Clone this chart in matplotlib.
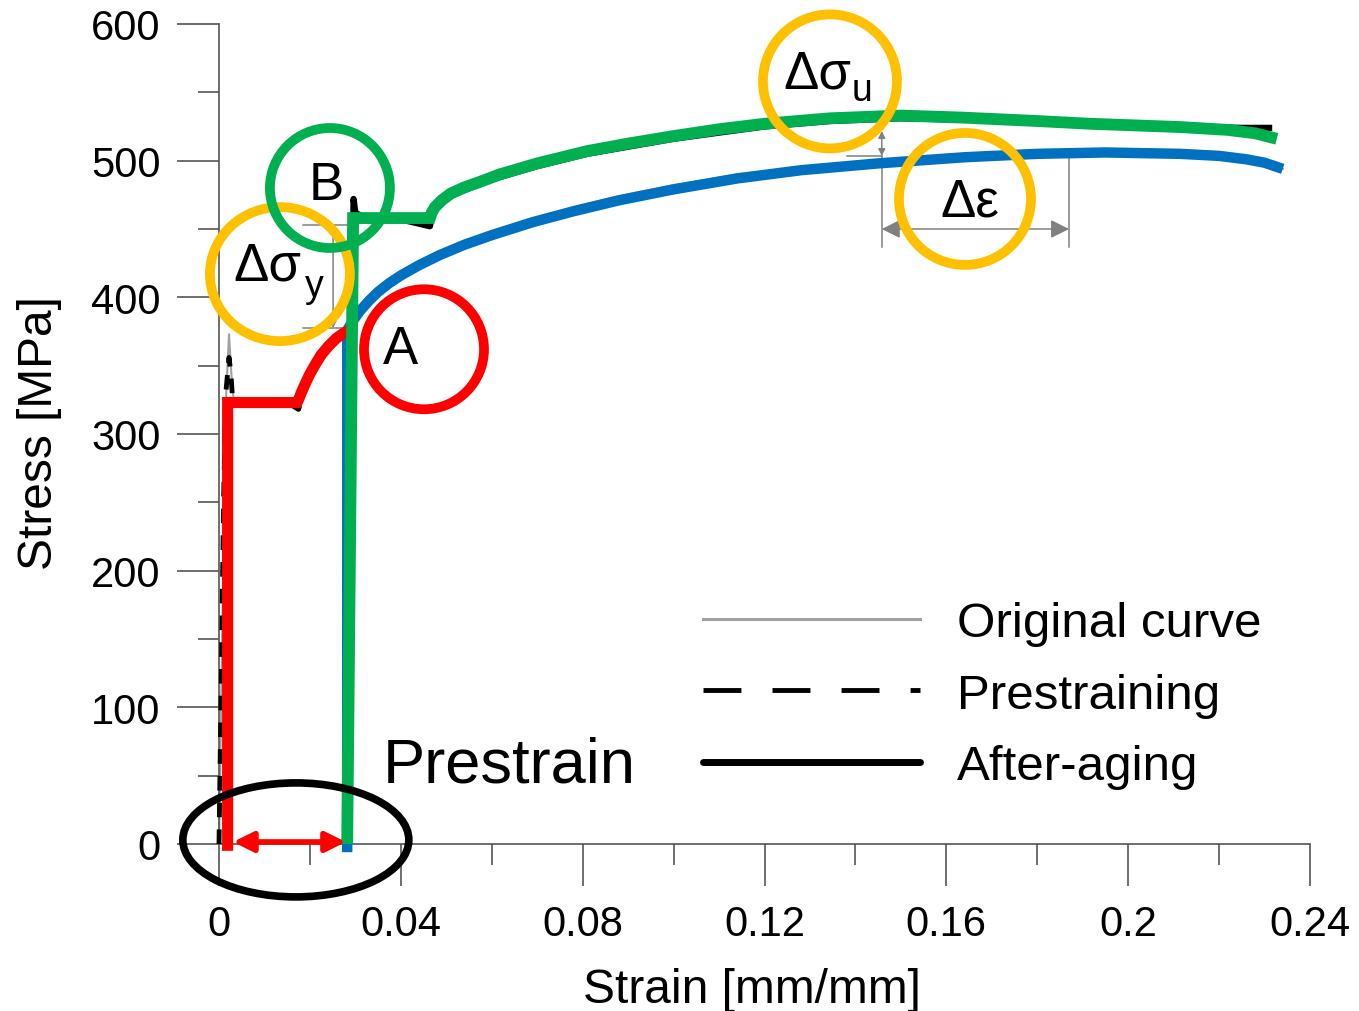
import numpy as np
import matplotlib
matplotlib.use("Agg")
import matplotlib.pyplot as plt
from matplotlib.lines import Line2D
from matplotlib.patches import Ellipse

plt.rcParams['font.family'] = ['Liberation Sans', 'DejaVu Sans']

# original (monotonic) test curve
orig_strain = [0, 0.0008, 0.0016, 0.0022, 0.0027, 0.0032, 0.008, 0.0175, 0.019, 0.022, 0.026, 0.0295,
               0.031, 0.033, 0.035, 0.0375, 0.040, 0.044, 0.0486, 0.054, 0.060, 0.069, 0.078, 0.088,
               0.100, 0.114, 0.128, 0.145, 0.164, 0.180, 0.195, 0.2114, 0.220, 0.226, 0.230, 0.234]
orig_stress = [0, 170, 330, 373, 345, 325, 322, 320, 334, 355, 371, 383,
               390, 397.5, 404, 410.5, 416, 423.5, 431, 439, 446.5, 457, 466, 474,
               482, 490, 495, 499, 503, 505.5, 506.5, 505.5, 504, 501, 498.5, 494]

# prestraining test (black dashed)
pre_strain = [0, 0.0005, 0.0010, 0.0015, 0.0022, 0.0026, 0.0030, 0.006, 0.009, 0.012, 0.015,
              0.0175, 0.019, 0.022, 0.026, 0.0295]
pre_stress = [0, 120, 250, 330, 356, 345, 325, 322, 324, 321, 323, 318, 334, 355, 371, 378]

# after-aging test (black solid)
aged_strain = [0.0282, 0.0290, 0.0296, 0.0300, 0.0320, 0.0400, 0.0464, 0.0470, 0.0500, 0.0574,
               0.0618, 0.0700, 0.0810, 0.1000, 0.1200, 0.1344, 0.1500, 0.1637, 0.1800, 0.1916,
               0.2114, 0.2250, 0.2310]
aged_stress = [0, 300, 472, 462, 458, 457, 452, 464, 473, 483, 488, 496, 505, 516, 525, 529,
               531, 530, 528, 526, 525, 524, 524]

# highlighted segments
red_strain = [0.0019, 0.0019, 0.0172, 0.0176, 0.0182, 0.0190, 0.0200, 0.0212, 0.0225, 0.0240,
              0.0258, 0.0275, 0.0293]
red_stress = [-5, 323, 323, 326, 331, 337, 344, 351, 358, 364, 370, 374, 377]

blue_strain = [0.0282, 0.0282, 0.0295, 0.0310, 0.0330, 0.0350, 0.0375, 0.0400, 0.0440, 0.0486,
               0.0540, 0.0600, 0.0690, 0.0780, 0.0880, 0.1000, 0.1140, 0.1280, 0.1450, 0.1640,
               0.1800, 0.1950, 0.2114, 0.2200, 0.2260, 0.2300, 0.2340]
blue_stress = [-6, 376, 383, 390, 397.5, 404, 410.5, 416, 423.5, 431, 438.5, 445.5, 455, 463,
               471, 479, 487, 493, 498, 502.5, 505, 506, 505, 503.5, 501, 498.5, 494]

green_strain = [0.0282, 0.0295, 0.0464, 0.0468, 0.0475, 0.0490, 0.0510, 0.0540, 0.0574, 0.0618,
                0.0700, 0.0810, 0.0900, 0.1000, 0.1100, 0.1200, 0.1344, 0.1500, 0.1637, 0.1800,
                0.1916, 0.2114, 0.2220, 0.2280, 0.2327]
green_stress = [0, 458, 458, 462, 466, 471, 476, 480.5, 484.5, 490, 498, 507, 512.5, 518, 523,
                527, 531, 533, 531.5, 529, 527, 524.6, 522.5, 520, 516]

legend_labels = ['Original curve', 'Prestraining', 'After-aging']

RED, GREEN, BLUE, YELLOW = '#FF0000', '#00B050', '#0070C0', '#FFC000'
AXC = '#555555'
DIMC = '#808080'

fig = plt.figure(figsize=(13.59, 10.12), dpi=100)
ax = fig.add_axes([219 / 1359, 1 - 845 / 1012, 1091 / 1359, 820 / 1012])
ax.set_xlim(0, 0.24)
ax.set_ylim(0, 600)

ax.plot(orig_strain, orig_stress, color='#A0A0A0', lw=1.5, zorder=2, clip_on=False)
ax.plot(pre_strain, pre_stress, color='black', lw=3.5, dashes=(3, 2.5), zorder=3, clip_on=False)
ax.plot(aged_strain, aged_stress, color='black', lw=4.5, zorder=3, clip_on=False)
ax.plot(blue_strain, blue_stress, color=BLUE, lw=7.5, zorder=4, clip_on=False, solid_capstyle='butt')
ax.plot(red_strain, red_stress, color=RED, lw=8, zorder=5, clip_on=False, solid_capstyle='butt',
        solid_joinstyle='miter')
ax.plot(green_strain, green_stress, color=GREEN, lw=8.5, zorder=6, clip_on=False, solid_capstyle='butt',
        solid_joinstyle='miter')

# axes styling
for side in ['top', 'right']:
    ax.spines[side].set_visible(False)
for side in ['left', 'bottom']:
    ax.spines[side].set_color(AXC)
    ax.spines[side].set_linewidth(1.2)
ax.set_xticks(np.arange(0, 0.241, 0.04))
ax.set_xticks(np.arange(0, 0.241, 0.02), minor=True)
ax.set_yticks(np.arange(0, 601, 100))
ax.set_yticks(np.arange(0, 601, 50), minor=True)
ax.set_xticklabels(['0', '0.04', '0.08', '0.12', '0.16', '0.2', '0.24'])
ax.tick_params(which='major', direction='out', length=30, width=1.2, color=AXC, labelsize=30, pad=13)
ax.tick_params(which='minor', direction='out', length=15, width=1.2, color=AXC)
ax.tick_params(axis='y', which='major', pad=12)

ax.set_xlabel('Strain [mm/mm]', fontsize=34.5)
ax.xaxis.set_label_coords((752 - 219) / 1091, -0.150)
ax.set_ylabel('Stress [MPa]', fontsize=34.5)
ax.yaxis.set_label_coords(-0.144, 0.502)

# legend
handles = [Line2D([], [], color='#A0A0A0', lw=2.2),
           Line2D([], [], color='black', lw=3.5, dashes=(7.8, 6.4)),
           Line2D([], [], color='black', lw=5, solid_capstyle='round')]
ax.legend(handles, legend_labels, loc='upper left', bbox_to_anchor=(0.4436, 0.2963), frameon=False,
          fontsize=35.5, handlelength=4.4, handletextpad=0.75, labelspacing=0.54,
          borderpad=0, borderaxespad=0)

# annotation circles (center in data units, radius in pixels)
sx = 1091 / 0.24
sy = 820 / 600
circles = [
    (0.1344, 558, 67, 67, YELLOW),
    (0.1641, 472, 66, 66, YELLOW),
    (0.0134, 417, 70, 67, YELLOW),
    (0.0244, 480, 60, 60, GREEN),
    (0.0451, 362, 60, 60, RED),
]
for cx, cy, rx, ry, col in circles:
    ax.add_patch(Ellipse((cx, cy), 2 * rx / sx, 2 * ry / sy, fill=False, ec=col, lw=7,
                         zorder=8, clip_on=False))
ax.add_patch(Ellipse((0.0169, 3), 226 / sx, 114 / sy, fill=False, ec='black', lw=5.5,
                     zorder=8, clip_on=False))

# labels inside circles
ax.text(0.0400, 362, 'A', fontsize=38, ha='center', va='center', zorder=9)
ax.text(0.0235, 482, 'B', fontsize=38, ha='center', va='center', zorder=9)
ax.text(0.0106, 423, 'Δσ', fontsize=38, ha='center', va='center', zorder=9)
ax.text(0.0209, 408, 'y', fontsize=27, ha='center', va='center', zorder=9)
ax.text(0.1317, 564, 'Δσ', fontsize=38, ha='center', va='center', zorder=9)
ax.text(0.1414, 552, 'u', fontsize=27, ha='center', va='center', zorder=9)
ax.text(0.1652, 470, 'Δε', fontsize=38, ha='center', va='center', zorder=9)
ax.text(0.0361, 58, 'Prestrain', fontsize=45.5, ha='left', va='center', zorder=9)

# prestrain arrow
ax.annotate('', xy=(0.0279, 1.5), xytext=(0.0031, 1.5),
            arrowprops=dict(arrowstyle='<|-|>', color=RED, lw=4, mutation_scale=30,
                            shrinkA=0, shrinkB=0), zorder=7, annotation_clip=False)

# dimension lines
dim = dict(color=DIMC, lw=1.1, zorder=1, clip_on=False)
ax.plot([0.0185, 0.0286], [453, 453], **dim)
ax.plot([0.0185, 0.0286], [377.5, 377.5], **dim)
ax.annotate('', xy=(0.0251, 453), xytext=(0.0251, 377.5),
            arrowprops=dict(arrowstyle='<|-|>', color=DIMC, lw=1.1, mutation_scale=10,
                            shrinkA=0, shrinkB=0))
ax.plot([0.1381, 0.1458], [503.4, 503.4], **dim)
ax.annotate('', xy=(0.1458, 521.7), xytext=(0.1458, 503.4),
            arrowprops=dict(arrowstyle='<|-|>', color=DIMC, lw=1.1, mutation_scale=10,
                            shrinkA=0, shrinkB=0))
ax.plot([0.1458, 0.1458], [503.4, 436.8], **dim)
ax.plot([0.1870, 0.1870], [502, 436.8], **dim)
ax.annotate('', xy=(0.1870, 450), xytext=(0.1458, 450),
            arrowprops=dict(arrowstyle='<|-|>', color=DIMC, lw=1.1, mutation_scale=28,
                            shrinkA=0, shrinkB=0))

fig.savefig('out.png', dpi=100)
